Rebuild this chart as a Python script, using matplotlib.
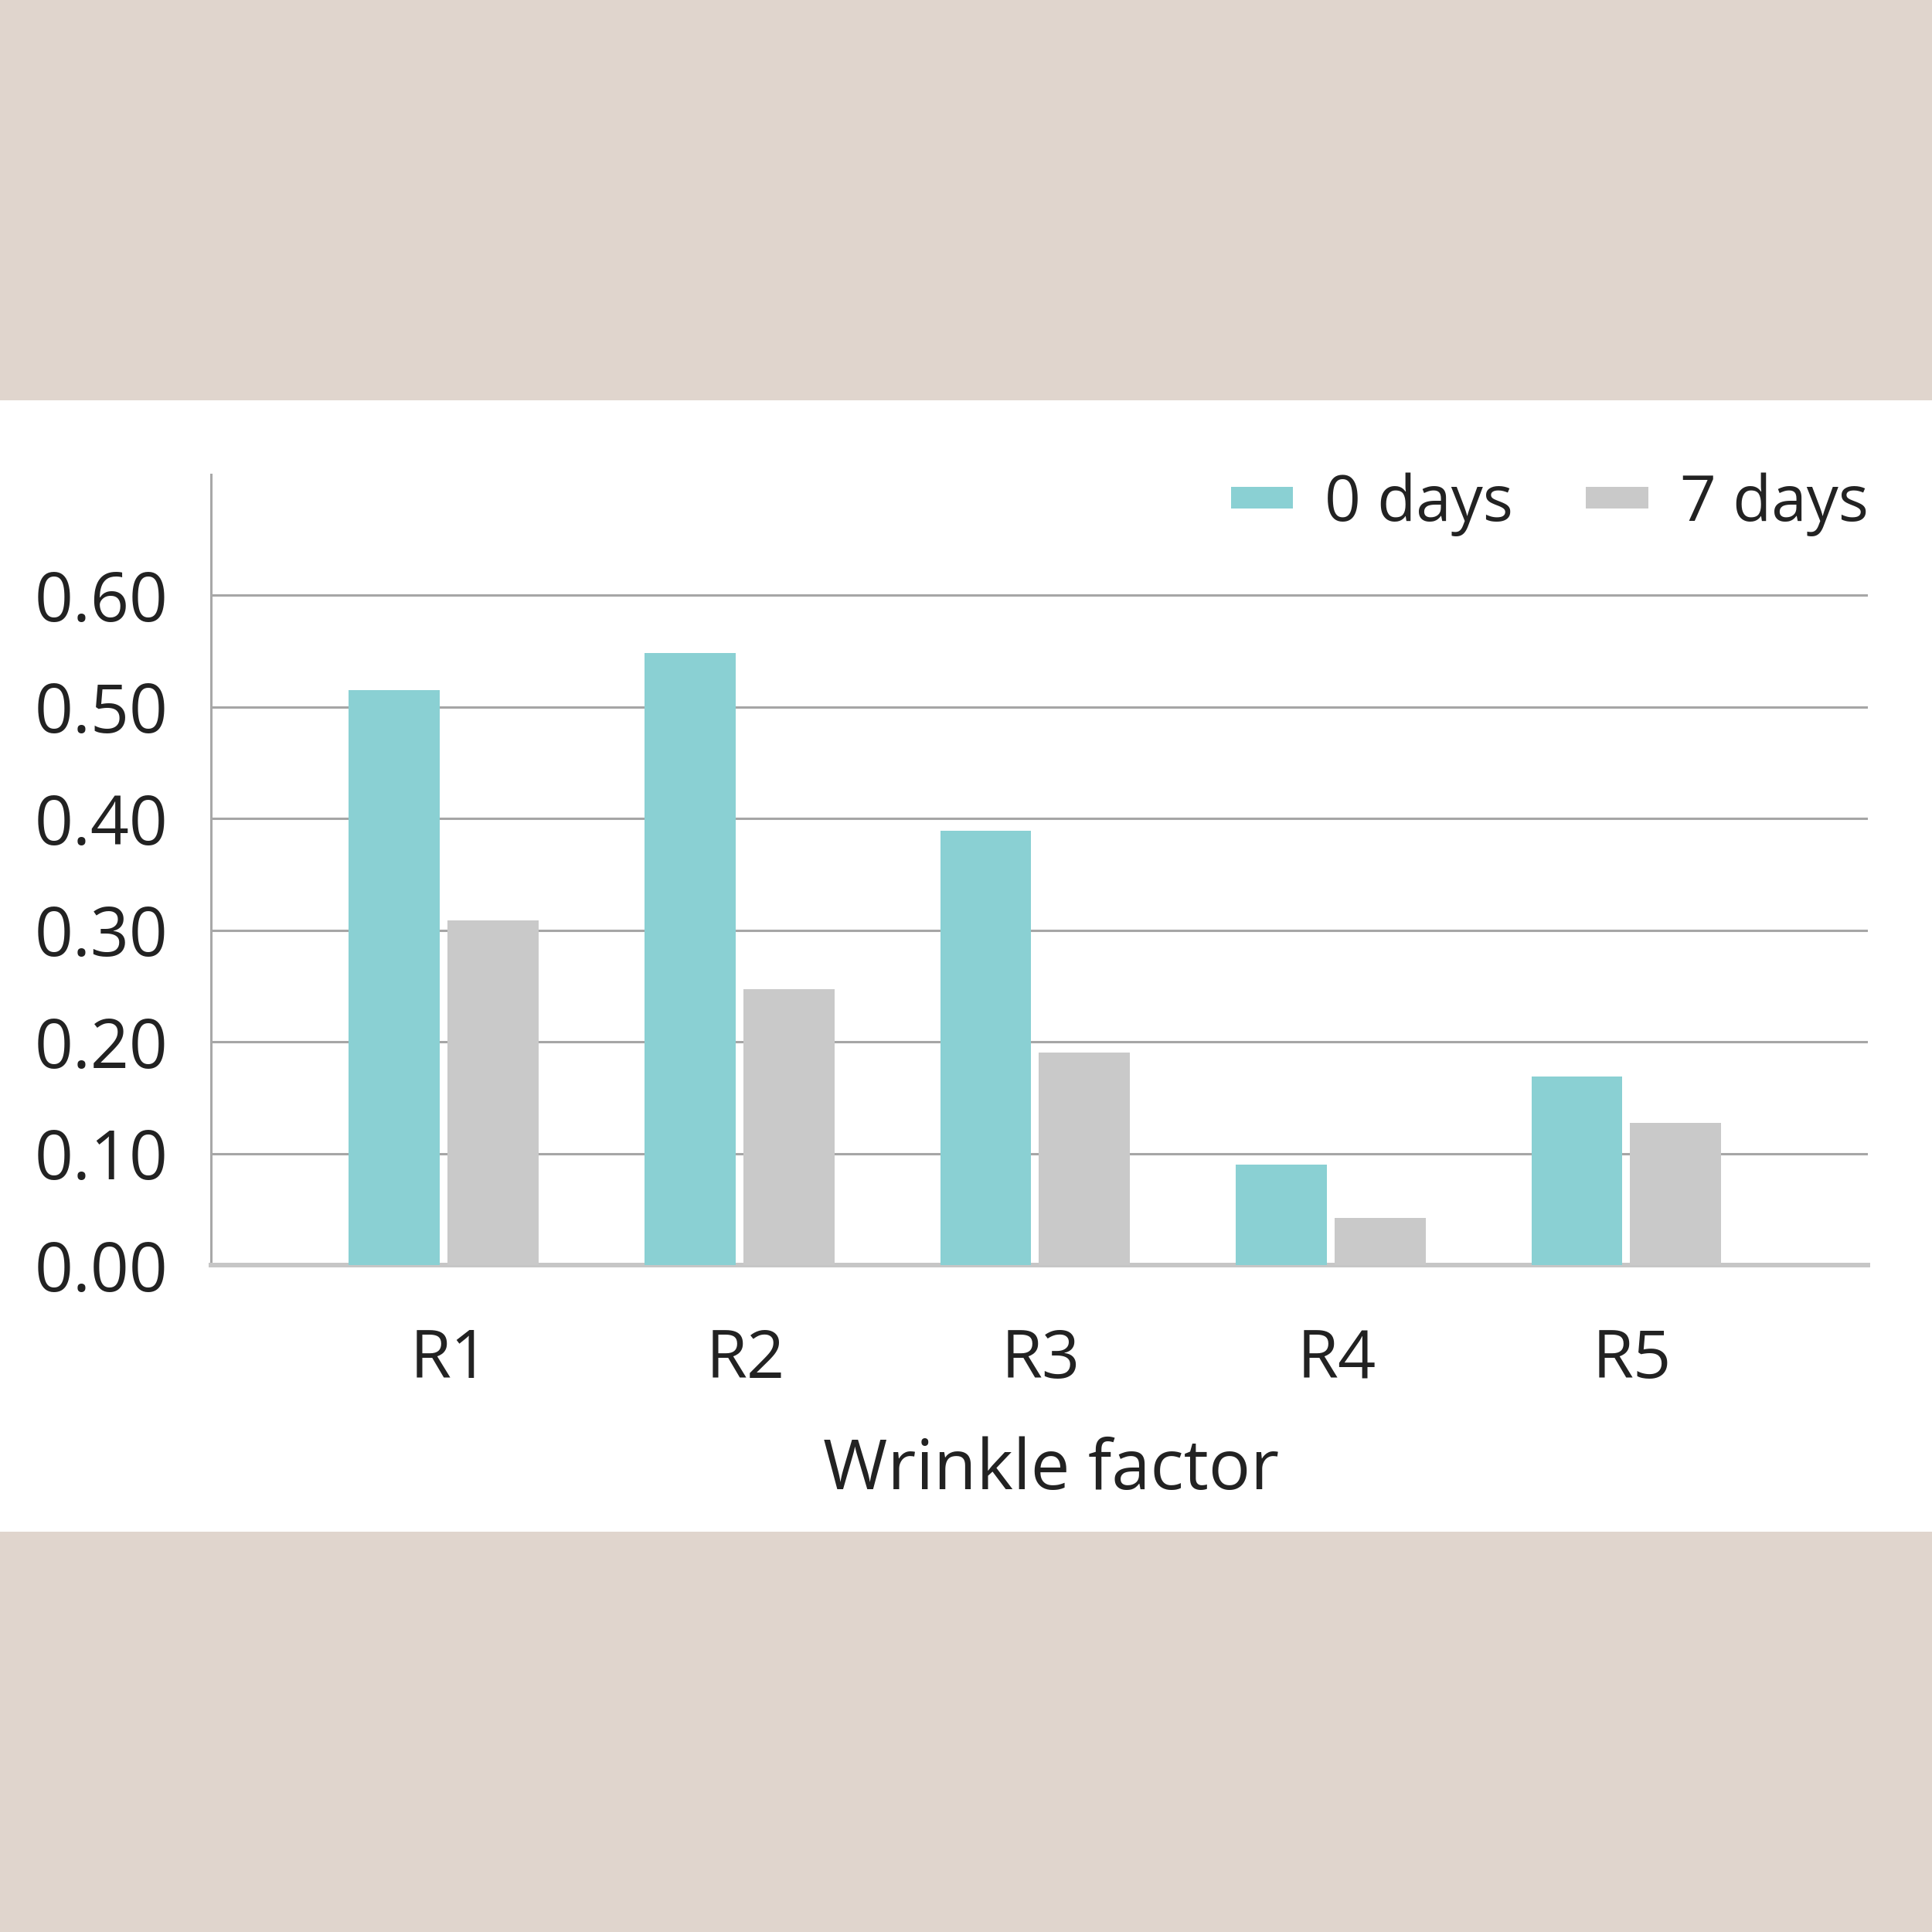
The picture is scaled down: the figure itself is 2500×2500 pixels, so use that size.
from matplotlib import pyplot as plt
from matplotlib.patches import Rectangle
import numpy as np

categories = ['R1', 'R2', 'R3', 'R4', 'R5']
days_0 = [0.515, 0.548, 0.389, 0.090, 0.169]
days_7 = [0.309, 0.247, 0.190, 0.042, 0.127]
series_names = ['0 days', '7 days']
yticks = [0.0, 0.1, 0.2, 0.3, 0.4, 0.5, 0.6]

TEAL = '#8ad0d3'
GREY = '#c9c9c9'
BEIGE = '#e0d5cd'
TEXT = '#222222'

plt.rcParams['font.family'] = ['Open Sans', 'DejaVu Sans']

fig = plt.figure(figsize=(25, 25), dpi=100, facecolor=BEIGE)
# white panel behind the chart
fig.patches.append(Rectangle((0, 0.2072), 1, 0.5856, transform=fig.transFigure,
                             facecolor='white', edgecolor='none', zorder=-5))

ax = fig.add_axes([0.1092, 0.3452, 0.8576, 0.4092])
ax.set_facecolor('none')

x = np.arange(len(categories))
w = 0.308
off = 0.167
b0 = ax.bar(x - off, days_0, width=w, color=TEAL, zorder=3, label=series_names[0])
b7 = ax.bar(x + off, days_7, width=w, color=GREY, zorder=3, label=series_names[1])

ax.set_xlim(-0.7875, 4.817)
ax.set_ylim(0, 0.708)
ax.set_yticks(yticks)
ax.set_yticklabels(['%.2f' % v for v in yticks])
ax.set_xticks(x + 0.02)
ax.set_xticklabels(categories)

ax.yaxis.grid(True, color='#a6a6a6', linewidth=2.2, zorder=1)
ax.set_axisbelow(True)
for s in ['top', 'right']:
	ax.spines[s].set_visible(False)
ax.spines['left'].set_color('#a8a8a8')
ax.spines['left'].set_linewidth(2.2)
ax.spines['bottom'].set_color('#c6c6c6')
ax.spines['bottom'].set_linewidth(4.3)

ax.tick_params(axis='y', length=0, pad=40, labelsize=63, labelcolor=TEXT)
ax.tick_params(axis='x', length=0, pad=58, labelsize=62, labelcolor=TEXT)
for t in ax.get_yticklabels():
	t.set_verticalalignment('center_baseline')

ax.set_xlabel('Wrinkle factor', fontsize=65, color=TEXT)
ax.xaxis.set_label_coords(0.507, -0.217)

fig.legend(handles=[b0, b7], labels=series_names, loc='center right',
           bbox_to_anchor=(0.967, 0.739), ncol=2, frameon=False,
           fontsize=59, handlelength=0.98, handleheight=0.15,
           handletextpad=0.5, columnspacing=1.15, borderpad=0,
           borderaxespad=0, labelcolor=TEXT)

fig.savefig('out.png', dpi=100, facecolor=BEIGE)
